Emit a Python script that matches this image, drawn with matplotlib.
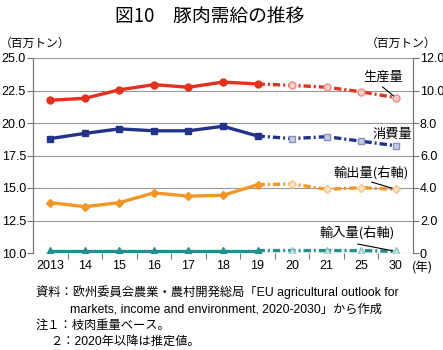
import numpy as np
import matplotlib
matplotlib.use("Agg")
import matplotlib.pyplot as plt

plt.rcParams['font.family'] = ['Liberation Sans', 'Noto Sans CJK JP', 'DejaVu Sans']

# ======================================================
# DATA
# ======================================================

years = ["2013", "14", "15", "16", "17", "18", "19", "20", "21", "25", "30"]
production = [21.75, 21.9, 22.55, 22.95, 22.75, 23.15, 23.0, 22.9, 22.75, 22.4, 21.95]
consumption = [18.8, 19.2, 19.55, 19.4, 19.4, 19.75, 19.0, 18.8, 18.95, 18.6, 18.25]
exports = [3.1, 2.85, 3.1, 3.7, 3.5, 3.55, 4.2, 4.25, 3.92, 4.02, 3.92]   # right axis
imports = [0.15, 0.15, 0.15, 0.15, 0.15, 0.15, 0.15, 0.15, 0.15, 0.15, 0.1]  # right axis

left_ticks = [10.0, 12.5, 15.0, 17.5, 20.0, 22.5, 25.0]
right_ticks = [0, 2, 4, 6, 8, 10, 12]

last_actual = 6   # 2019 -> projections after

RED = "#e2311f"
BLUE = "#24338a"
ORANGE = "#f29627"
TEAL = "#25908a"


def light(c, f=0.75):
    rgb = np.array(matplotlib.colors.to_rgb(c))
    return tuple(rgb + (1 - rgb) * f)


def to_right(v):
    # left axis value -> right axis value
    return (v - 10) * 0.8


# ======================================================
# FIGURE
# ======================================================

fig = plt.figure(figsize=(4.43, 3.5), dpi=100)
ax = fig.add_axes([33 / 443, 97 / 350, 380 / 443, 195 / 350])
ax2 = ax.twinx()

x = np.arange(len(years))


def draw(axis, vals, color, marker, ms):
    a = last_actual
    axis.plot(x[:a + 1], vals[:a + 1], color=color, lw=2.4, marker=marker,
              ms=ms, mfc=color, mec=color, zorder=3)
    axis.plot(x[a:], vals[a:], color=color, lw=2.4, dashes=(2.2, 0.9, 0.6, 0.9),
              dash_capstyle="butt", zorder=3)
    axis.plot(x[a + 1:], vals[a + 1:], ls="none", marker=marker, ms=ms,
              mfc=light(color), mec=light(color, 0.45), mew=1, zorder=4)


draw(ax, production, RED, "o", 5)
draw(ax, consumption, BLUE, "s", 5)
draw(ax2, exports, ORANGE, "D", 4.5)
draw(ax2, imports, TEAL, "^", 6)

ax.set_ylim(10, 25)
ax2.set_ylim(0, 12)
ax.set_xlim(-0.5, len(years) - 0.5)
ax.set_yticks(left_ticks)
ax.set_yticklabels([f"{v:.1f}" for v in left_ticks])
ax2.set_yticks(right_ticks)
ax2.set_yticklabels(["0"] + [f"{v:.1f}" for v in right_ticks[1:]])
ax.grid(axis="y", color="#999999", lw=0.8)
ax.set_axisbelow(True)

ax.set_xticks(x)
ax.set_xticklabels(years)
ax.set_xticks(x[:-1] + 0.5, minor=True)
ax.tick_params(axis="x", which="major", length=0, labelsize=9, pad=5)
ax.tick_params(axis="x", which="minor", length=4, color="#777777", width=0.8)
ax.tick_params(axis="y", length=4, color="#777777", labelsize=9, pad=1)
ax2.tick_params(axis="y", length=4, color="#777777", labelsize=9, pad=1)

for a in (ax, ax2):
    a.spines["top"].set_visible(False)
    a.spines["bottom"].set_visible(False)
    a.spines["left"].set_color("#777777")
    a.spines["right"].set_color("#777777")

# ======================================================
# LABELS
# ======================================================

fs = 9.5
lab = dict(fontsize=fs, ha="center", va="center", family=['Noto Sans CJK JP'])
ax2.text(9.64, to_right(23.54), "生産量", **lab)
ax2.text(9.9, to_right(19.08), "消費量", **lab)
ax2.text(9.3, to_right(16.18), "輸出量(右軸)", **lab)
ax2.text(8.89, to_right(11.54), "輸入量(右軸)", **lab)

leaders = [
    ((9.62, to_right(22.77)), (10, to_right(production[-1]))),
    ((9.3, to_right(15.46)), (10, exports[-1])),
    ((8.9, to_right(10.69)), (10, imports[-1])),
]
for start, end in leaders:
    ax2.annotate("", xy=end, xytext=start,
                 arrowprops=dict(arrowstyle="-", color="black", lw=0.8,
                                 shrinkA=0, shrinkB=2))

fig.text(210 / 443, 1 - 16 / 350, "図10　豚肉需給の推移", fontsize=13.5,
         ha="center", va="center", family=['Noto Sans CJK JP'])
fig.text(0 / 443, 1 - 43 / 350, "（百万トン）", fontsize=8.5, ha="left", va="center",
         family=['Noto Sans CJK JP'])
fig.text(436 / 443, 1 - 43 / 350, "（百万トン）", fontsize=8.5, ha="right", va="center",
         family=['Noto Sans CJK JP'])
fig.text(412 / 443, 1 - 268 / 350, "(年)", fontsize=9, ha="left", va="center",
         family=['Noto Sans CJK JP'])

notes = [
    (36, 292, "資料：欧州委員会農業・農村開発総局「EU agricultural outlook for"),
    (70, 309, "markets, income and environment, 2020-2030」から作成"),
    (36, 326, "注１：枝肉重量ベース。"),
    (50, 342, "２：2020年以降は推定値。"),
]
for nx, ny, t in notes:
    fig.text(nx / 443, 1 - ny / 350, t, fontsize=8.8, ha="left", va="center")

fig.savefig("out.png", dpi=100)
plt.close(fig)
